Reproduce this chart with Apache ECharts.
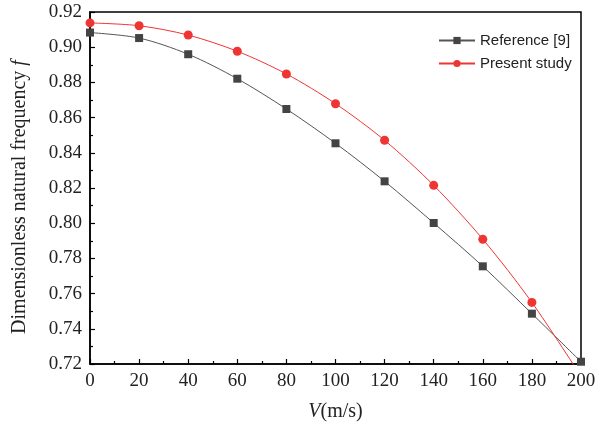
<!DOCTYPE html>
<html>
<head>
<meta charset="utf-8">
<script src="https://cdn.jsdelivr.net/npm/echarts@6/dist/echarts.min.js"></script>
<style>
  html, body { margin: 0; padding: 0; background: #fff; }
  #main { width: 612px; height: 425px; }
</style>
</head>
<body>
<div id="main"></div>
<script>
var velocity = [0, 20, 40, 60, 80, 100, 120, 140, 160, 180, 200];
var reference9 = [0.9083, 0.9052, 0.8960, 0.8821, 0.8649, 0.8454, 0.8238, 0.8001, 0.7755, 0.7486, 0.7213];
var presentStudy = [0.9138, 0.9122, 0.9069, 0.8977, 0.8848, 0.8679, 0.8471, 0.8215, 0.7909, 0.7550, 0.7130];

function pairs(xs, ys) {
  return xs.map((x, i) => [x, ys[i]]);
}

var serif = 'Liberation Serif';
var chart = echarts.init(document.getElementById('main'));
var option = {
  backgroundColor: '#fff',
  animation: false,
  grid: {
    left: 90, right: 31, top: 12, bottom: 61,
    outerBoundsMode: 'none',
    show: true,
    borderColor: '#000',
    borderWidth: 1.5
  },
  legend: {
    orient: 'vertical',
    left: 433,
    top: 28,
    itemWidth: 36,
    itemHeight: 9,
    itemGap: 8,
    textStyle: { fontFamily: 'Liberation Sans', fontSize: 15, color: '#222' },
    data: ['Reference [9]', 'Present study']
  },
  xAxis: {
    type: 'value',
    min: 0, max: 200, interval: 20,
    name: '{i|V}(m/s)',
    nameLocation: 'middle',
    nameGap: 38,
    nameTextStyle: {
      fontFamily: serif, fontSize: 20, color: '#222',
      rich: { i: { fontFamily: serif, fontSize: 20, fontStyle: 'italic', color: '#222' } }
    },
    axisLine: { lineStyle: { color: '#000', width: 1.5 } },
    axisTick: { inside: true, length: 5, lineStyle: { color: '#000', width: 1.2 } },
    minorTick: { show: true, splitNumber: 2, length: 3, lineStyle: { color: '#000', width: 1.2 } },
    axisLabel: { fontFamily: serif, fontSize: 19, color: '#222', margin: 8 },
    splitLine: { show: false }
  },
  yAxis: {
    type: 'value',
    min: 0.72, max: 0.92, interval: 0.02,
    name: 'Dimensionless natural frequency {i|f}',
    nameLocation: 'middle',
    nameGap: 60,
    nameTextStyle: {
      fontFamily: serif, fontSize: 20, color: '#222',
      padding: [0, 18, 0, 0],
      rich: { i: { fontFamily: serif, fontSize: 20, fontStyle: 'italic', color: '#222' } }
    },
    axisLine: { lineStyle: { color: '#000', width: 1.5 } },
    axisTick: { inside: true, length: 5, lineStyle: { color: '#000', width: 1.2 } },
    minorTick: { show: true, splitNumber: 2, length: 3, lineStyle: { color: '#000', width: 1.2 } },
    axisLabel: {
      fontFamily: serif, fontSize: 19, color: '#222', margin: 8,
      formatter: v => v.toFixed(2)
    },
    splitLine: { show: false }
  },
  series: [
    {
      name: 'Reference [9]',
      type: 'line',
      data: pairs(velocity, reference9),
      smooth: 0.3,
      symbol: 'rect',
      symbolSize: 8,
      clip: true,
      itemStyle: { color: '#444' },
      lineStyle: { color: '#555', width: 1 }
    },
    {
      name: 'Present study',
      type: 'line',
      data: pairs(velocity, presentStudy),
      smooth: 0.3,
      symbol: 'circle',
      symbolSize: 9,
      clip: true,
      itemStyle: { color: '#ef3434' },
      lineStyle: { color: '#ef3434', width: 1 }
    }
  ]
};
chart.setOption(option);
</script>
</body>
</html>
